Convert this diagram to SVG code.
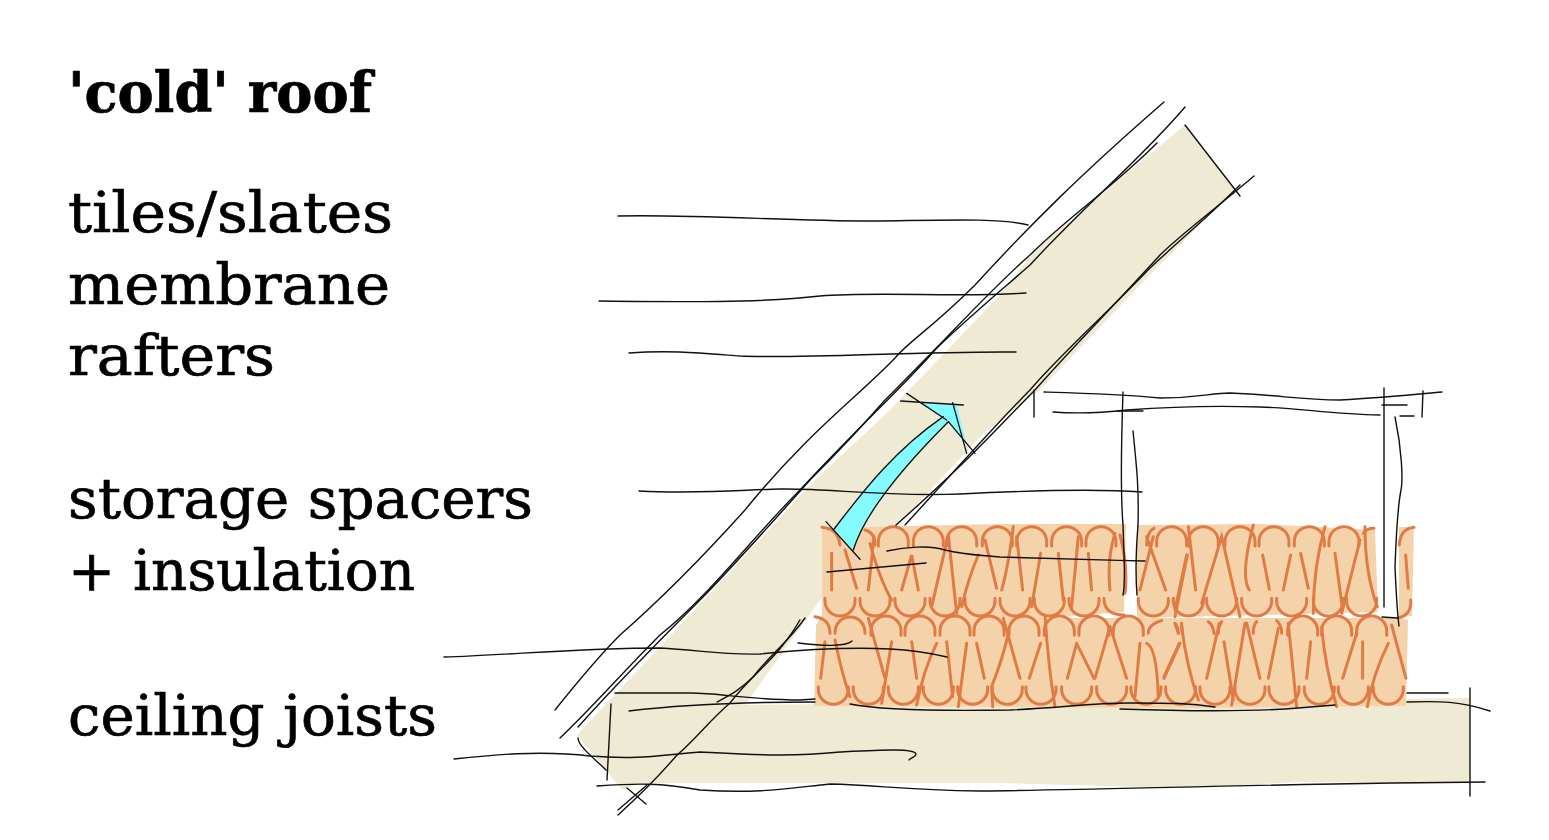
<svg xmlns="http://www.w3.org/2000/svg" width="1549" height="840" viewBox="0 0 1549 840">
<style>
text{font-family:"DejaVu Serif","Liberation Serif",serif;font-size:56px;fill:#000;stroke:#000;stroke-width:.7}
.l{fill:none;stroke:#111;stroke-width:1.4;stroke-linecap:round;stroke-linejoin:round}
.o{fill:none;stroke:#E07B45;stroke-width:9;stroke-linecap:round}
.i{fill:#F5D3AA}
.w{fill:#EFEAD3}
</style>
<defs>
<path id="t" d="M-45 58V45A45 45 0 0 1 45 45V58"/>
<path id="b" d="M-45 0V8A45 45 0 0 0 45 8V0"/>
</defs>
<rect width="1549" height="840" fill="#fff"/>
<g id="fills">
<path class="w" d="M1185 125L1235 190L1140 285L1040 390L985 432L900 522L820 600L745 705L1470 698V783L1300 782L1180 788L1000 783H640L622 790L577 735L715 588L815 480L890 410L1000 295L1035 250Z"/>
<path class="i" d="M822 528L1000 524L1126 524L1124 612L1040 618H1400L1408 620L1406 706L1200 708L814 706L816 625L822 615ZM1137 525L1260 524L1375 530L1378 612L1137 618ZM1399 527L1414 527L1412 616L1399 617Z"/>
</g>
<g id="insulation">
<g class="o" transform="translate(800 500) scale(.3333)">
<use href="#t" x="280" y="80"/><use href="#t" x="385" y="80"/><use href="#t" x="485" y="80"/><use href="#t" x="592" y="80"/><use href="#t" x="695" y="80"/><use href="#t" x="800" y="80"/><use href="#t" x="903" y="80"/><use href="#t" x="1115" y="80"/>
<path d="M66 82C100 85 115 100 120 135M195 90C215 95 225 110 225 135M1040 135C1040 110 1050 90 1062 85"/>
<use href="#b" x="120" y="295"/><use href="#b" x="225" y="295"/><use href="#b" x="330" y="295"/><use href="#b" x="435" y="295"/><use href="#b" x="540" y="295"/><use href="#b" x="645" y="295"/><use href="#b" x="748" y="295"/><use href="#b" x="852" y="295"/><path d="M912 295C912 330 935 345 972 345"/><use href="#b" x="1060" y="295"/>
<path d="M95 160V270M135 150L170 265M205 270L222 110M210 130Q240 240 275 300M305 270L335 165L355 270M395 320L445 105L470 340M485 320Q505 235 535 165M555 120L590 265M605 270Q625 200 640 80M668 270L650 110M695 320L722 160M775 160L790 300M815 320L835 110M865 160L875 270M930 270Q920 180 945 100M960 105Q985 200 975 280M1020 270L1060 110M1040 110L1097 270M1125 330L1160 165"/>
<path d="M62 535L75 425M105 420Q125 520 150 590M205 355L255 535M275 425L245 610M335 425L350 535M410 430Q370 510 350 615M440 425L458 590M500 430L475 620M530 430L553 535M610 355L660 535M625 400Q610 470 575 560L578 620M722 430L688 535M735 345Q745 500 765 620M830 430L802 535M830 430L882 535M930 380L885 535M930 380L980 535M1020 430L1005 590M1040 430Q1070 440 1075 590M1140 430L1092 535"/>
<path d="M45 350C80 355 90 375 90 400M105 400C105 335 195 335 195 400"/><use href="#t" x="258" y="348"/><use href="#t" x="360" y="348"/><use href="#t" x="465" y="348"/><use href="#t" x="567" y="348"/><use href="#t" x="672" y="348"/><use href="#t" x="778" y="348"/><use href="#t" x="882" y="348"/><use href="#t" x="985" y="348"/>
<path d="M1045 400C1045 385 1055 370 1085 362M1125 370L1135 400M1145 370L1147 400"/>
<use href="#b" x="100" y="560"/><use href="#b" x="205" y="560"/><use href="#b" x="310" y="560"/><use href="#b" x="415" y="560"/><use href="#b" x="518" y="560"/><use href="#b" x="622" y="560"/><use href="#b" x="723" y="560"/><use href="#b" x="830" y="560"/><use href="#b" x="935" y="560"/><use href="#b" x="1038" y="560"/><use href="#b" x="1142" y="560"/>
</g>
<g class="o" transform="translate(1150 500) scale(.3333)">
<use href="#t" x="160" y="80"/><use href="#t" x="270" y="80"/><use href="#t" x="372" y="80"/><use href="#t" x="478" y="80"/><use href="#t" x="582" y="80"/>
<path d="M640 100Q650 85 672 85M748 135C750 100 765 85 792 82"/>
<use href="#b" x="115" y="295"/><use href="#b" x="215" y="295"/><use href="#b" x="320" y="295"/><use href="#b" x="425" y="295"/><use href="#b" x="535" y="295"/><use href="#b" x="635" y="295"/><path d="M782 300C785 330 770 350 745 353"/>
<path d="M75 350L112 165M115 80L137 270M155 310L215 110L270 350M310 75Q270 230 298 270M338 165L358 268M422 165L400 270M452 160L475 265M525 80Q490 200 490 340M555 160L578 330M630 120L575 340M645 80Q645 220 682 320M767 165L775 265"/>
<path d="M88 430L42 530M95 380Q110 500 145 600M208 370L170 535M222 425L250 600M285 370L245 615M290 370L330 535M385 385L355 535M415 370L440 620M482 425L470 535M515 380Q525 500 560 620M620 400L578 535M638 425V535M715 430Q670 520 652 620M725 375L768 535"/>
<path d="M75 370Q85 380 85 400M175 365Q190 375 192 400M215 365Q205 380 205 400M320 365Q310 375 310 400M380 362Q395 375 395 400"/><use href="#t" x="458" y="348"/><use href="#t" x="560" y="348"/><use href="#t" x="665" y="348"/>
<use href="#b" x="195" y="560"/><use href="#b" x="300" y="560"/><use href="#b" x="402" y="560"/><use href="#b" x="508" y="560"/><use href="#b" x="610" y="560"/><use href="#b" x="715" y="560"/>
</g>
</g>
<g id="arrow" transform="translate(800 370) scale(.3333)">
<path fill="#84FBFF" d="M100 480C170 390 270 250 430 140L358 100L470 105L500 225L445 155C300 300 190 440 160 540Z"/>
<g class="l" style="stroke-width:4">
<path d="M100 480C170 390 270 250 430 140M445 155C300 300 190 440 160 540M320 70L440 150M302 93L490 105M458 98L500 250M445 155L525 250M78 455L180 568"/>
</g>
</g>
<g id="connectors" class="l">
<path d="M1164 102C1080 175 1030 225 975 285C930 330 910 340 895 358C860 395 810 430 745 510C700 560 660 600 620 635C595 660 575 685 555 710"/>
<path d="M1185 107C1140 160 1090 200 1030 265C990 300 960 325 935 350C905 385 860 425 800 490C750 540 710 595 660 635C620 675 590 710 560 738"/>
<path d="M1157 143C1110 190 1070 215 1030 255C990 290 960 325 885 400C850 440 830 460 810 480C770 525 720 580 700 600C660 640 620 680 578 727"/>
<path d="M1254 176C1220 205 1180 235 1160 255C1110 310 1070 350 1035 390C1000 425 975 455 896 525"/>
<path d="M1240 185C1210 215 1180 240 1150 268C1100 320 1060 355 1030 390C1000 420 960 465 905 525"/>
<path d="M1185 125L1240 196"/>
<path d="M805 618C790 640 770 655 753 677C740 690 730 695 717 702"/>
<path d="M800 620C785 645 775 655 760 670C745 685 740 690 730 703C710 720 695 740 677 755C660 775 640 795 618 815"/>
<path d="M647 785L618 810M627 788L646 804"/>
<path d="M578 738C578 745 590 755 606 770M611 704L607 780"/>
<path d="M618 216C700 214 800 222 880 221C950 220 1000 218 1028 225"/>
<path d="M599 301C680 302 760 303 820 296C880 291 960 298 1026 293"/>
<path d="M629 353C670 350 700 353 740 356C800 359 920 351 1016 352"/>
<path d="M639 491C700 494 740 490 780 489C830 488 880 497 960 494C1020 491 1100 489 1142 492"/>
<path d="M887 551C905 547 930 545 945 550C965 555 980 555 1000 557C1060 559 1100 560 1145 561"/>
<path d="M827 572L926 563"/>
<path d="M444 657C510 655 580 648 660 648C700 650 720 655 760 654C800 650 850 647 890 649C910 650 930 653 947 657"/>
<path d="M798 643C815 645 845 648 852 641"/>
<path d="M615 693H690C720 693 750 700 800 700L815 699M629 711C670 706 730 702 815 702"/>
<path d="M850 704C880 710 950 711 1010 710C1060 708 1090 703 1130 703C1170 703 1190 703 1215 707M1120 709C1180 711 1250 712 1298 708L1335 705"/>
<path d="M1407 702C1440 701 1460 701 1490 711M1407 693H1448M1470 688V796"/>
<path d="M454 759C490 755 540 750 590 756C640 760 660 755 700 752C760 755 790 757 840 752C880 750 915 748 916 754C916 757 910 758 909 760"/>
<path d="M597 786C640 783 660 783 700 790C760 794 790 788 830 784C880 785 900 790 980 791C1100 790 1300 783 1485 782"/>
<path d="M1044 392C1080 393 1120 394 1160 398C1200 398 1210 393 1230 393C1280 395 1300 400 1340 400C1380 398 1410 395 1442 392"/>
<path d="M1053 412C1080 414 1100 413 1127 410C1180 406 1230 406 1260 407C1300 408 1330 414 1380 415"/>
<path d="M1034 390V417M1117 411H1143M1123 392C1121 450 1121 500 1123 525C1124 560 1126 580 1123 595"/>
<path d="M1133 431C1137 470 1139 490 1138 525C1136 550 1135 570 1137 595M1384 388V607M1395 417C1402 450 1403 480 1401 490C1397 510 1396 540 1395 567C1396 590 1397 610 1399 626M1382 405H1407M1400 416H1414M1423 391L1422 417M1382 617L1397 618"/>
</g>
<g id="labels">
<text x="68" y="112" font-weight="bold" textLength="304" lengthAdjust="spacingAndGlyphs">'cold' roof</text>
<text x="68" y="232" textLength="325" lengthAdjust="spacingAndGlyphs">tiles/slates</text>
<text x="68" y="304" textLength="322" lengthAdjust="spacingAndGlyphs">membrane</text>
<text x="68" y="375" textLength="207" lengthAdjust="spacingAndGlyphs">rafters</text>
<text x="68" y="518" textLength="465" lengthAdjust="spacingAndGlyphs">storage spacers</text>
<text x="68" y="590" textLength="347" lengthAdjust="spacingAndGlyphs">+ insulation</text>
<text x="68" y="735" textLength="369" lengthAdjust="spacingAndGlyphs">ceiling joists</text>
</g>
</svg>
